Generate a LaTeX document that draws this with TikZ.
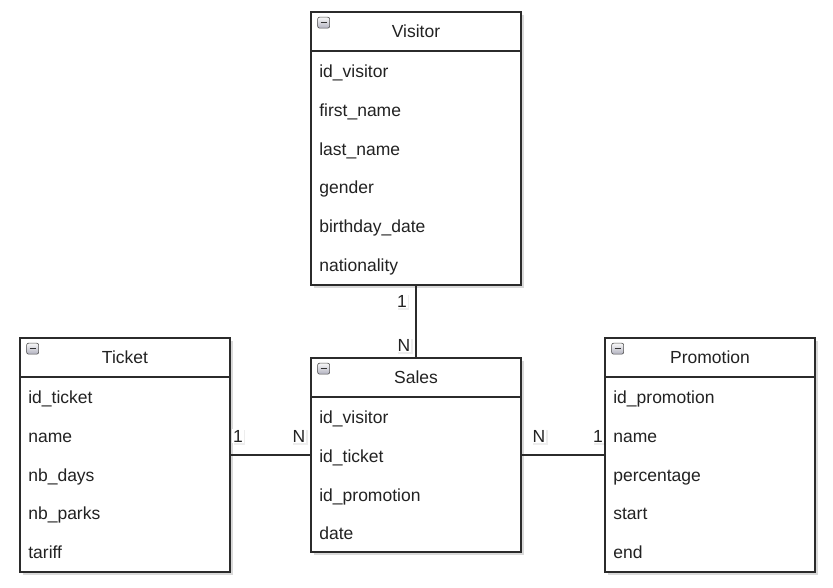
\documentclass[tikz,border=0pt]{standalone}
\usepackage{fontspec}
\setmainfont{Liberation Sans}
\usetikzlibrary{positioning,shadows}
\definecolor{edge}{HTML}{2B2B2B}
\definecolor{ink}{HTML}{222222}
\begin{document}
\begin{tikzpicture}[x=1pt,y=-1pt,
  every node/.style={font=\fontsize{17.5}{21}\selectfont,text=ink},
  ent/.style={draw=edge,fill=white,line width=1.3pt,minimum width=210pt,inner sep=0pt,
    drop shadow={shadow xshift=3pt,shadow yshift=-3pt,opacity=.15,fill=black}},
  head/.style={draw=edge,line width=1.3pt,minimum width=210pt,minimum height=39pt,inner sep=0pt,
    text height=12.5pt,text depth=0pt,anchor=north},
  fld/.style={inner sep=0pt,outer sep=0pt,text height=12.5pt,text depth=0pt},
  card/.style={fill=white,inner sep=1pt,text height=12.5pt,text depth=0pt,
    drop shadow={shadow xshift=1.5pt,shadow yshift=-1.5pt,opacity=.07,fill=black}},
  tog/.style={draw=gray!60!black,line width=.6pt,rounded corners=2pt,top color=gray!5,bottom color=blue!10!gray!55,
    minimum width=12pt,minimum height=11pt,inner sep=0pt,
    path picture={\draw[line width=1.6pt,black!80] ([xshift=3pt]path picture bounding box.west) -- ([xshift=-3pt]path picture bounding box.east);}},
  link/.style={draw=edge,line width=1.5pt}]
  \useasboundingbox (0,0) rectangle (833,587);

  % Visitor
  \node[ent,minimum height=273pt] (vis) at (416,148.5) {};
  \node[head] (vish) at (vis.north) {Visitor};
  \node[tog,below right=5.5pt and 7pt of vish.north west] (vist) {};
  \node[fld,below right=13.5pt and 9pt of vish.south west] (v1) {id\_visitor};
  \node[fld,below right=26.2pt and 0pt of v1.south west] (v2) {first\_name};
  \node[fld,below right=26.2pt and 0pt of v2.south west] (v3) {last\_name};
  \node[fld,below right=26.2pt and 0pt of v3.south west] (v4) {gender};
  \node[fld,below right=26.2pt and 0pt of v4.south west] (v5) {birthday\_date};
  \node[fld,below right=26.2pt and 0pt of v5.south west] (v6) {nationality};

  % Ticket
  \node[ent,minimum height=234pt] (tic) at (125,455) {};
  \node[head] (tich) at (tic.north) {Ticket};
  \node[tog,below right=5.5pt and 7pt of tich.north west] (tict) {};
  \node[fld,below right=13.5pt and 9pt of tich.south west] (t1) {id\_ticket};
  \node[fld,below right=26.2pt and 0pt of t1.south west] (t2) {name};
  \node[fld,below right=26.2pt and 0pt of t2.south west] (t3) {nb\_days};
  \node[fld,below right=26.2pt and 0pt of t3.south west] (t4) {nb\_parks};
  \node[fld,below right=26.2pt and 0pt of t4.south west] (t5) {tariff};

  % Sales
  \node[ent,minimum height=194pt] (sal) at (416,455) {};
  \node[head] (salh) at (sal.north) {Sales};
  \node[tog,below right=5.5pt and 7pt of salh.north west] (salt) {};
  \node[fld,below right=13.5pt and 9pt of salh.south west] (s1) {id\_visitor};
  \node[fld,below right=26.2pt and 0pt of s1.south west] (s2) {id\_ticket};
  \node[fld,below right=26.2pt and 0pt of s2.south west] (s3) {id\_promotion};
  \node[fld,below right=26.2pt and 0pt of s3.south west] (s4) {date};

  % Promotion
  \node[ent,minimum height=234pt] (pro) at (710,455) {};
  \node[head] (proh) at (pro.north) {Promotion};
  \node[tog,below right=5.5pt and 7pt of proh.north west] (prot) {};
  \node[fld,below right=13.5pt and 9pt of proh.south west] (p1) {id\_promotion};
  \node[fld,below right=26.2pt and 0pt of p1.south west] (p2) {name};
  \node[fld,below right=26.2pt and 0pt of p2.south west] (p3) {percentage};
  \node[fld,below right=26.2pt and 0pt of p3.south west] (p4) {start};
  \node[fld,below right=26.2pt and 0pt of p4.south west] (p5) {end};

  \draw[link] (vis) -- (sal);
  \draw[link] (tic) -- (sal);
  \draw[link] (sal) -- (pro);

  \node[card] (vis1) at (402,301) {1};
  \node[card] (salN1) at (404,345) {N};
  \node[card] (tic1) at (238,436) {1};
  \node[card] (salN2) at (299,436) {N};
  \node[card] (salN3) at (539,436) {N};
  \node[card] (pro1) at (598,436) {1};
\end{tikzpicture}
\end{document}
